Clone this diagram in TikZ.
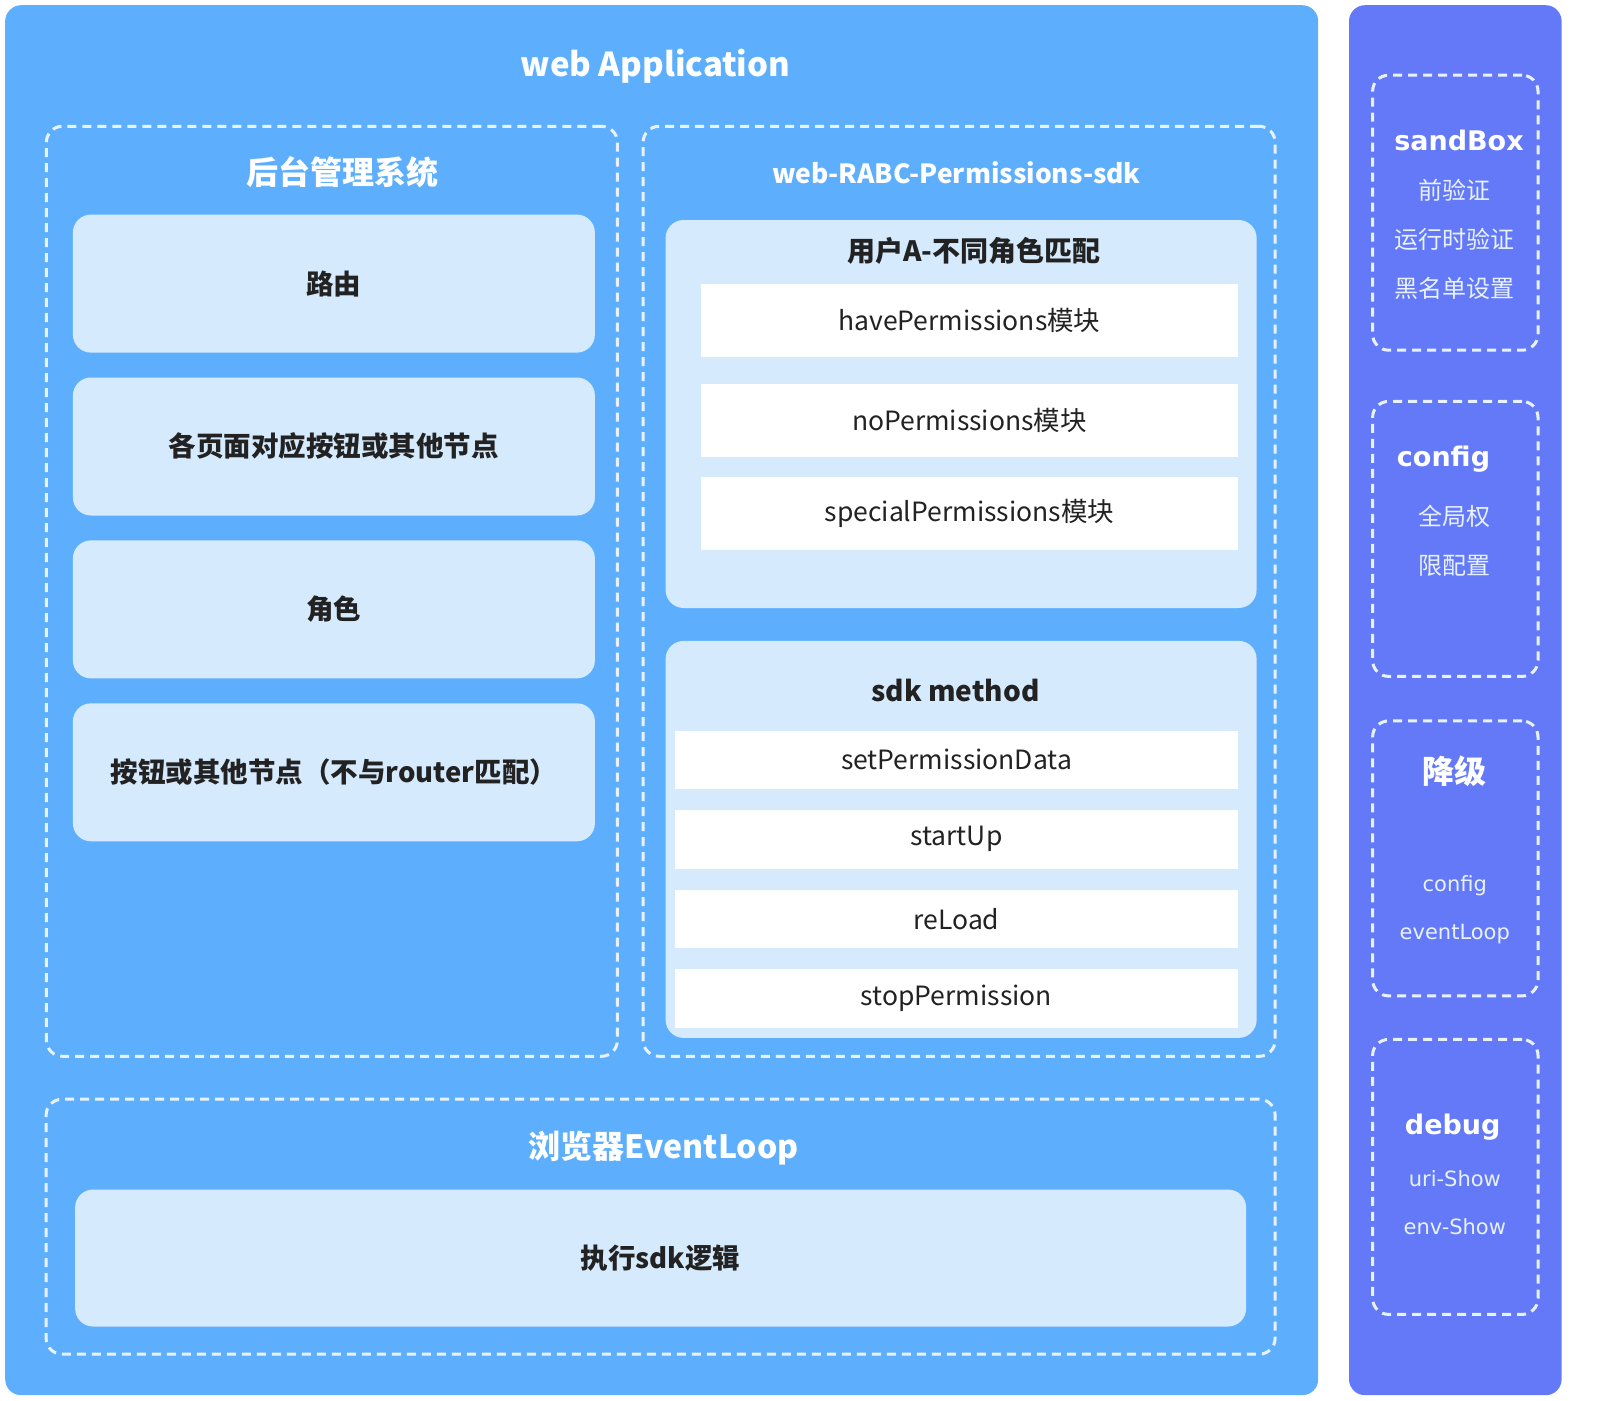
\documentclass[tikz,border=0pt]{standalone}
\usepackage{fontspec}
\setmainfont{Noto Sans CJK SC}
\newfontfamily\latinsans{DejaVu Sans}
\usetikzlibrary{positioning}
\definecolor{appblue}{RGB}{93,175,253}
\definecolor{sidepurple}{RGB}{99,121,248}
\definecolor{cardblue}{RGB}{214,234,253}
\definecolor{dashwhite}{RGB}{232,242,255}
\definecolor{inkdark}{RGB}{34,34,34}

\begin{document}
\begin{tikzpicture}[x=1pt, y=-1pt,
      panel/.style = {fill=#1, rounded corners=16pt, inner sep=0pt},
      group/.style = {draw=dashwhite, line width=3pt, dash pattern=on 9pt off 6pt, rounded corners=16pt, inner sep=0pt},
      card/.style = {fill=cardblue, rounded corners=18pt, inner sep=0pt, text=inkdark, font=\fontsize{27.5pt}{34pt}\selectfont\bfseries},
      item/.style = {fill=white, inner sep=0pt, minimum width=537pt, minimum height=73pt, text=inkdark, font=\fontsize{26.5pt}{32pt}\selectfont},
      methoditem/.style = {item, minimum width=563pt, minimum height=58.6pt},
      heading/.style = {text=white, font=\fontsize{32pt}{38pt}\selectfont\bfseries},
      cardhead/.style = {text=inkdark, font=\fontsize{28pt}{34pt}\selectfont\bfseries},
      sidehead/.style = {text=white, font=\latinsans\fontsize{27pt}{32pt}\selectfont\bfseries},
      sidetext/.style = {text=dashwhite, align=center, font=\fontsize{24pt}{49pt}\selectfont},
      sidelatin/.style = {text=dashwhite, align=center, font=\latinsans\fontsize{21pt}{48pt}\selectfont}
    ]
    \useasboundingbox (0,0) rectangle (1611,1400);

    % background panels
    \node[panel=appblue, minimum width=1313pt, minimum height=1390pt] (app) at (661.7,700.2) {};
    \node[panel=sidepurple, minimum width=212.6pt, minimum height=1390pt] (side) at (1455.3,700.2) {};
    \node[heading, font=\fontsize{33pt}{40pt}\selectfont\bfseries] (apptitle) at (655.5,66.5) {web Application};

    % admin system
    \node[group, minimum width=571pt, minimum height=930pt] (admin) at (331.9,591.3) {};
    \node[heading] (admintitle) at (342.1,172.6) {后台管理系统};
    \node[card, minimum width=522pt, minimum height=138pt] (route) at (333.9,283.6) {路由};
    \node[card, minimum width=522pt, minimum height=138pt, below=24.5pt of route] (pagebtn) {各页面对应按钮或其他节点};
    \node[card, minimum width=522pt, minimum height=138pt, below=24.5pt of pagebtn] (role) {角色};
    \node[card, minimum width=522pt, minimum height=138pt, below=24.5pt of role] (otherbtn) {按钮或其他节点（不与router匹配）};

    % sdk
    \node[group, minimum width=632pt, minimum height=930pt] (sdk) at (959.1,591.3) {};
    \node[heading, font=\fontsize{26.4pt}{32pt}\selectfont\bfseries] (sdktitle) at (956.5,172.6) {web-RABC-Permissions-sdk};

    \node[card, minimum width=591pt, minimum height=388pt] (match) at (961.1,414) {};
    \node[cardhead] (matchtitle) at (974,250.7) {用户A-不同角色匹配};
    \node[item] (have) at (969.4,320) {havePermissions模块};
    \node[item] (nope) at (969.4,420.2) {noPermissions模块};
    \node[item] (special) at (969.4,513.2) {specialPermissions模块};

    \node[card, minimum width=591pt, minimum height=397pt] (method) at (961.1,839.4) {};
    \node[cardhead] (methodtitle) at (955.5,690.4) {sdk method};
    \node[methoditem] (setdata) at (956.5,759.8) {setPermissionData};
    \node[methoditem, below=20.5pt of setdata] (startup) {startUp};
    \node[methoditem, below=20.5pt of startup] (reload) {reLoad};
    \node[methoditem, below=20.5pt of reload] (stopperm) {stopPermission};

    % event loop
    \node[group, minimum width=1229pt, minimum height=255pt] (loop) at (660.6,1226.7) {};
    \node[heading] (looptitle) at (663.7,1147.6) {浏览器EventLoop};
    \node[card, minimum width=1171pt, minimum height=137pt] (runsdk) at (660.6,1258) {执行sdk逻辑};

    % side column
    \node[group, minimum width=165.4pt, minimum height=275pt] (sandbox) at (1455.3,212.7) {};
    \node[sidehead] (sandboxtitle) at (1459,140.8) {sandBox};
    \node[sidetext] (sandboxlist) at (1454.8,239.4) {前验证\\运行时验证\\黑名单设置};

    \node[group, minimum width=165.4pt, minimum height=275pt] (config) at (1455.3,538.9) {};
    \node[sidehead] (configtitle) at (1443.5,459.2) {config};
    \node[sidetext] (configlist) at (1454.8,541) {全局权\\限配置};

    \node[group, minimum width=165.4pt, minimum height=275pt] (fallback) at (1455.3,858.4) {};
    \node[heading] (fallbacktitle) at (1454.8,771.6) {降级};
    \node[sidelatin] (fallbacklist) at (1454.8,909.2) {config\\eventLoop};

    \node[group, minimum width=165.4pt, minimum height=275pt] (debug) at (1455.3,1176.9) {};
    \node[sidehead] (debugtitle) at (1452.7,1127) {debug};
    \node[sidelatin] (debuglist) at (1454.8,1202.5) {uri-Show\\env-Show};

\end{tikzpicture}
\end{document}
